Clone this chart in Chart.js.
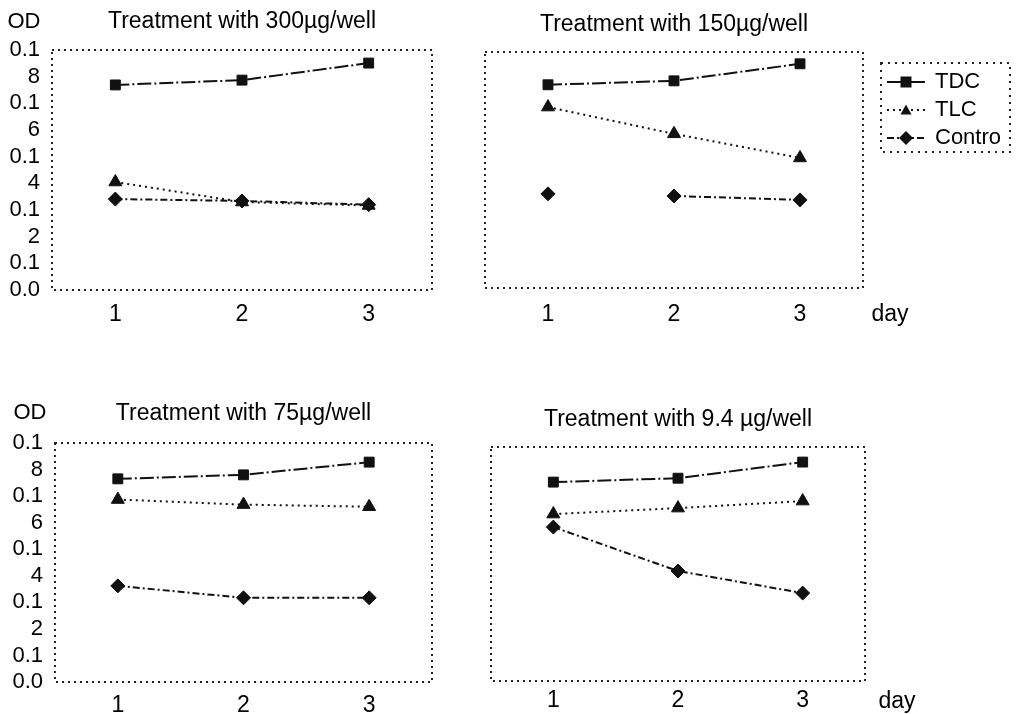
<!DOCTYPE html>
<html>
<head>
<meta charset="utf-8">
<title>OD treatment panels</title>
<script src="https://cdn.jsdelivr.net/npm/chart.js@4.4.1/dist/chart.umd.min.js"></script>
<style>
  body { margin: 0; background: #fff; }
  #wrap { position: relative; width: 1017px; height: 714px; overflow: hidden; }
  canvas { position: absolute; }
</style>
</head>
<body>
<div id="wrap">
  <canvas id="c300" width="470" height="335" style="left:0;top:0"></canvas>
  <canvas id="c150" width="547" height="335" style="left:470px;top:0"></canvas>
  <canvas id="c75" width="470" height="334" style="left:0;top:380px"></canvas>
  <canvas id="c94" width="547" height="334" style="left:470px;top:380px"></canvas>
</div>
<script>
// categories and tick labels (y labels bottom -> top, as printed)
var days = ['1', '2', '3'];
var yTickLabels = ['0.0', '0.1', '2', '0.1', '4', '0.1', '6', '0.1', '8', '0.1'];
var seriesNames = ['TDC', 'TLC', 'Contro'];

// values in y-tick units (0 = bottom tick, 9 = top tick)
var tdc300 = [7.69, 7.87, 8.51];
var tlc300 = [4.05, 3.30, 3.17];
var ctl300 = [3.41, 3.34, 3.20];

var tdc150 = [7.75, 7.90, 8.55];
var tlc150 = [6.90, 5.88, 4.96];
var ctl150 = [3.59, 3.51, 3.36];

var tdc75 = [7.65, 7.80, 8.28];
var tlc75 = [6.87, 6.68, 6.60];
var ctl75 = [3.62, 3.17, 3.17];

var tdc94 = [7.65, 7.80, 8.42];
var tlc94 = [6.42, 6.65, 6.92];
var ctl94 = [5.92, 4.23, 3.38];

Chart.defaults.font.family = "'Liberation Sans', Arial, sans-serif";
Chart.defaults.color = '#000';

var INK = '#111';
var styles = [
    { dash: [14, 3, 2, 3], point: 'rect', radius: 7 },
    { dash: [2, 4], point: 'triangle', radius: 7.5 },
    { dash: [7, 3, 2, 3], point: 'rectRot', radius: 7 }
];

// dotted box round the plot area
var framePlugin = {
    id: 'frame',
    afterDraw: function (chart) {
        var a = chart.chartArea, c = chart.ctx;
        c.save();
        c.strokeStyle = '#222';
        c.lineWidth = 2;
        c.setLineDash([2, 4]);
        c.strokeRect(a.left, a.top, a.right - a.left, a.bottom - a.top);
        c.restore();
    }
};

function notesPlugin(items) {
    return {
        id: 'notes',
        afterDraw: function (chart) {
            var c = chart.ctx;
            c.save();
            c.fillStyle = '#000';
            c.textAlign = 'center';
            c.textBaseline = 'middle';
            items.forEach(function (it) {
                c.font = it.size + "px 'Liberation Sans', Arial, sans-serif";
                c.fillText(it.text, it.x, it.y);
            });
            c.restore();
        }
    };
}

function drawMarker(c, style, x, y) {
    var r = 5.5;
    c.beginPath();
    if (style.point === 'rect') {
        c.rect(x - r, y - r, 2 * r, 2 * r);
    } else if (style.point === 'triangle') {
        c.moveTo(x, y - r);
        c.lineTo(x + r, y + r * 0.8);
        c.lineTo(x - r, y + r * 0.8);
        c.closePath();
    } else {
        r = 7;
        c.moveTo(x, y - r); c.lineTo(x + r, y); c.lineTo(x, y + r); c.lineTo(x - r, y);
        c.closePath();
    }
    c.fill();
}

// legend with dotted frame, drawn in the right margin of the 150 panel
var legendPlugin = {
    id: 'dotLegend',
    afterDraw: function (chart) {
        var c = chart.ctx;
        var box = { l: 411, t: 63, r: 540, b: 152 };
        c.save();
        c.strokeStyle = '#222';
        c.lineWidth = 2;
        c.setLineDash([2, 5]);
        c.strokeRect(box.l, box.t, box.r - box.l, box.b - box.t);
        c.font = "22px 'Liberation Sans', Arial, sans-serif";
        c.textBaseline = 'middle';
        c.textAlign = 'left';
        seriesNames.forEach(function (name, i) {
            var y = 82 + i * 28;
            c.strokeStyle = INK;
            c.fillStyle = INK;
            c.lineWidth = 2;
            c.setLineDash(i === 0 ? [] : styles[i].dash);
            c.beginPath();
            c.moveTo(417, y);
            c.lineTo(455, y);
            c.stroke();
            c.setLineDash([]);
            drawMarker(c, styles[i], 436, y);
            c.fillStyle = '#000';
            c.fillText(name, 465, y);
        });
        c.restore();
    }
};

function makePanel(id, title, tdc, tlc, ctl, lay) {
    var canvas = document.getElementById(id);
    var W = canvas.width, H = canvas.height;
    var values = [tdc, tlc, ctl];
    var datasets = values.map(function (v, i) {
        var ds = {
            label: seriesNames[i],
            data: v,
            borderColor: INK,
            backgroundColor: INK,
            borderWidth: 2,
            borderDash: styles[i].dash,
            pointStyle: styles[i].point,
            pointRadius: styles[i].radius,
            pointBackgroundColor: INK,
            pointBorderColor: INK,
            pointBorderWidth: 1,
            tension: 0,
            fill: false
        };
        if (i === 2 && lay.ctlGap) {
            ds.segment = {
                borderColor: function (ctx) { return ctx.p0DataIndex === 0 ? 'rgba(0,0,0,0)' : INK; }
            };
        }
        return ds;
    });
    var plugins = [framePlugin, notesPlugin(lay.notes)];
    if (lay.legend) plugins.push(legendPlugin);

    return new Chart(canvas.getContext('2d'), {
        type: 'line',
        data: { labels: days, datasets: datasets },
        options: {
            responsive: false,
            animation: false,
            layout: {
                padding: { left: 0, right: W - lay.r, top: 0, bottom: 0 }
            },
            plugins: {
                legend: { display: false },
                tooltip: { enabled: false },
                title: {
                    display: true,
                    text: title,
                    color: '#000',
                    fullSize: false,
                    font: { size: 23, weight: 'normal' },
                    padding: { top: lay.titleY - 13.8, bottom: lay.t - lay.titleY - 13.8 }
                }
            },
            scales: {
                x: {
                    type: 'category',
                    offset: true,
                    grid: { display: false, drawTicks: false },
                    border: { display: false },
                    ticks: { color: '#000', font: { size: 23 }, padding: lay.xPad, maxRotation: 0 },
                    afterFit: function (s) { s.height = H - lay.b; }
                },
                y: {
                    display: lay.showY,
                    min: 0,
                    max: 9,
                    grid: { display: false, drawTicks: false },
                    border: { display: false },
                    ticks: {
                        stepSize: 1,
                        autoSkip: false,
                        color: '#000',
                        font: { size: 22 },
                        padding: 12,
                        callback: function (v) { return yTickLabels[v]; }
                    },
                    afterFit: function (s) { s.width = lay.l; }
                }
            }
        },
        plugins: plugins
    });
}

makePanel('c300', 'Treatment with 300\u00b5g/well', tdc300, tlc300, ctl300, {
    l: 52, t: 50, r: 432, b: 290, titleY: 22, showY: true, xPad: 10.7,
    notes: [{ text: 'OD', x: 24, y: 22, size: 22 }]
});
makePanel('c150', 'Treatment with 150\u00b5g/well', tdc150, tlc150, ctl150, {
    l: 15, t: 52, r: 393, b: 288, titleY: 25, showY: false, xPad: 13.2, ctlGap: true, legend: true,
    notes: [{ text: 'day', x: 420, y: 315, size: 23 }]
});
makePanel('c75', 'Treatment with 75\u00b5g/well', tdc75, tlc75, ctl75, {
    l: 55, t: 63, r: 432, b: 302, titleY: 34, showY: true, xPad: 10.2,
    notes: [{ text: 'OD', x: 30, y: 33, size: 22 }]
});
makePanel('c94', 'Treatment with 9.4 \u00b5g/well', tdc94, tlc94, ctl94, {
    l: 21, t: 67, r: 395, b: 301, titleY: 40, showY: false, xPad: 5.7,
    notes: [{ text: 'day', x: 427, y: 322, size: 23 }]
});
</script>
</body>
</html>
